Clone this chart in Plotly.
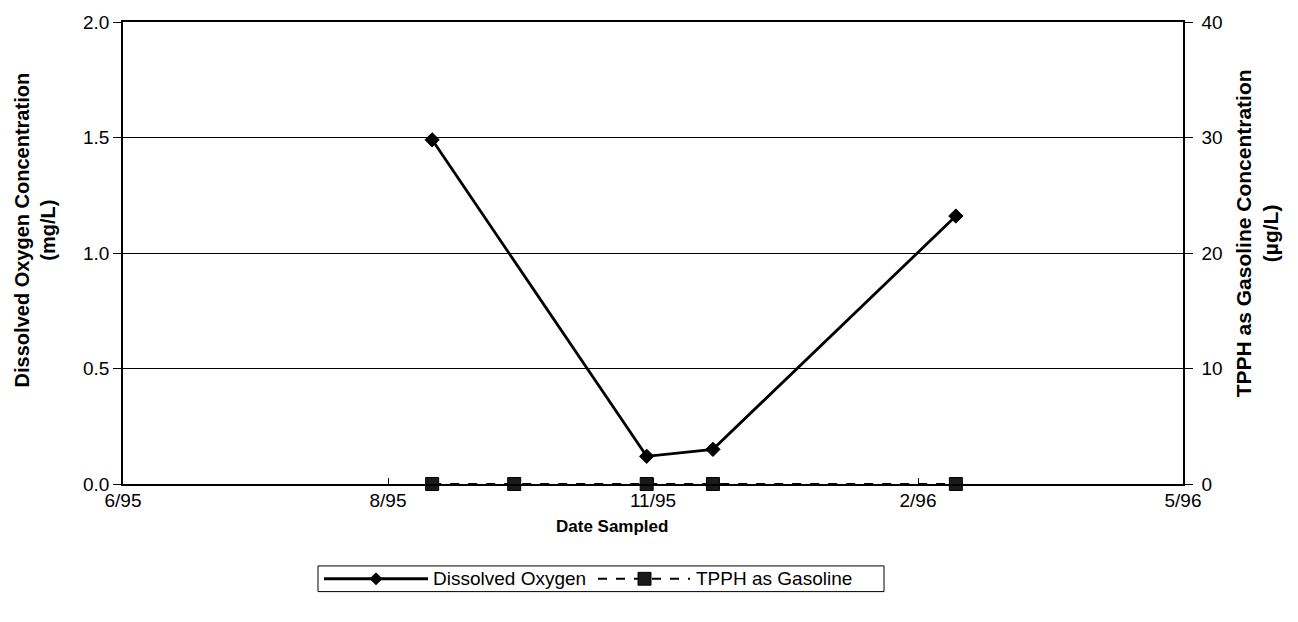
import plotly.graph_objects as go

# Sampling results
do_dates = ["1995-09-12", "1995-11-19", "1995-12-10", "1996-02-25"]
do_values = [1.49, 0.12, 0.15, 1.16]

tpph_dates = ["1995-09-12", "1995-10-08", "1995-11-19", "1995-12-10", "1996-02-25"]
tpph_values = [0, 0, 0, 0, 0]

# Date axis ticks
x_tick_dates = ["1995-06-06", "1995-08-29", "1995-11-21", "1996-02-13", "1996-05-07"]
x_tick_labels = ["6/95", "8/95", "11/95", "2/96", "5/96"]

do_ticks = [0.0, 0.5, 1.0, 1.5, 2.0]
tpph_ticks = [0, 10, 20, 30, 40]

FONT = "Liberation Sans, Arial, sans-serif"
W, H = 1298, 622
ML, MR, MT, MB = 123, 115, 16, 138
PW, PH = W - ML - MR, H - MT - MB


def px(xp):
    """Horizontal page pixel -> paper fraction."""
    return (xp - ML) / PW


def py(yp):
    """Vertical page pixel -> paper fraction."""
    return (H - MB - yp) / PH


fig = go.Figure()

fig.add_trace(go.Scatter(
    x=do_dates, y=do_values, name="Dissolved Oxygen",
    mode="lines+markers",
    line=dict(color="black", width=2.8),
    marker=dict(symbol="diamond", size=11, color="black",
                line=dict(color="black", width=1)),
    cliponaxis=False, showlegend=False,
    yaxis="y",
))

fig.add_trace(go.Scatter(
    x=tpph_dates, y=tpph_values, name="TPPH as Gasoline",
    mode="lines+markers",
    line=dict(color="black", width=2, dash="dash"),
    marker=dict(symbol="square", size=13, color="#1a1a1a",
                line=dict(color="black", width=1)),
    cliponaxis=False, showlegend=False,
    yaxis="y2",
))

# Legend box drawn below the plot with long line keys
leg_y = 580
shapes = [
    dict(type="rect", xref="paper", yref="paper",
         x0=px(318), x1=px(884), y0=py(593), y1=py(567),
         line=dict(color="black", width=1), fillcolor="white", layer="above"),
    # Dissolved Oxygen key
    dict(type="line", xref="paper", yref="paper",
         x0=px(324), x1=px(428), y0=py(leg_y), y1=py(leg_y),
         line=dict(color="black", width=2.8), layer="above"),
    dict(type="path", xref="paper", yref="paper",
         path=(f"M {px(370)} {py(leg_y)} L {px(376)} {py(leg_y - 6)} "
               f"L {px(382)} {py(leg_y)} L {px(376)} {py(leg_y + 6)} Z"),
         fillcolor="black", line=dict(color="black", width=1), layer="above"),
    # TPPH key
    dict(type="line", xref="paper", yref="paper",
         x0=px(598), x1=px(690), y0=py(leg_y), y1=py(leg_y),
         line=dict(color="black", width=2, dash="dash"), layer="above"),
    dict(type="rect", xref="paper", yref="paper",
         x0=px(638), x1=px(651), y0=py(leg_y + 6.5), y1=py(leg_y - 6.5),
         fillcolor="#1a1a1a", line=dict(color="black", width=1), layer="above"),
]

annotations = [
    dict(text="Dissolved Oxygen", xref="paper", yref="paper",
         x=px(431), y=py(leg_y), xanchor="left", yanchor="middle",
         showarrow=False, font=dict(size=19)),
    dict(text="TPPH as Gasoline", xref="paper", yref="paper",
         x=px(694), y=py(leg_y), xanchor="left", yanchor="middle",
         showarrow=False, font=dict(size=19)),
    dict(text="<b>Date Sampled</b>", xref="paper", yref="paper",
         x=0.461, y=-0.092, xanchor="center", yanchor="middle",
         showarrow=False, font=dict(size=17)),
    dict(text="<b>Dissolved Oxygen Concentration<br>(mg/L)</b>",
         xref="paper", yref="paper", x=-0.083, y=0.549,
         xanchor="center", yanchor="middle", textangle=-90,
         showarrow=False, font=dict(size=20)),
    dict(text="<b>TPPH as Gasoline Concentration<br>(µg/L)</b>",
         xref="paper", yref="paper", x=1.070, y=0.543,
         xanchor="center", yanchor="middle", textangle=-90,
         showarrow=False, font=dict(size=21)),
]

fig.update_layout(
    width=W, height=H,
    margin=dict(l=ML, r=MR, t=MT, b=MB),
    paper_bgcolor="white", plot_bgcolor="white",
    font=dict(family=FONT, size=19, color="black"),
    showlegend=False,
    xaxis=dict(
        type="date",
        range=[x_tick_dates[0], x_tick_dates[-1]],
        tickmode="array", tickvals=x_tick_dates, ticktext=x_tick_labels,
        showgrid=False, zeroline=False,
        showline=True, linecolor="black", linewidth=1.5, mirror=True,
        ticks="inside", ticklen=6, tickcolor="black",
        ticklabelstandoff=-2,
        tickfont=dict(size=19),
    ),
    yaxis=dict(
        range=[0, 2.0],
        tickmode="array", tickvals=do_ticks, tickformat=".1f",
        showgrid=True, gridcolor="black", gridwidth=1,
        zeroline=False,
        showline=True, linecolor="black", linewidth=1.5,
        ticks="outside", ticklen=8, tickcolor="black",
        tickfont=dict(size=19),
    ),
    yaxis2=dict(
        range=[0, 40], overlaying="y", side="right",
        tickmode="array", tickvals=tpph_ticks,
        showgrid=False, zeroline=False,
        showline=True, linecolor="black", linewidth=1.5,
        ticks="outside", ticklen=8, tickcolor="black",
        ticklabelstandoff=5,
        tickfont=dict(size=19),
    ),
    shapes=shapes,
    annotations=annotations,
)

fig.write_html("out.html")
